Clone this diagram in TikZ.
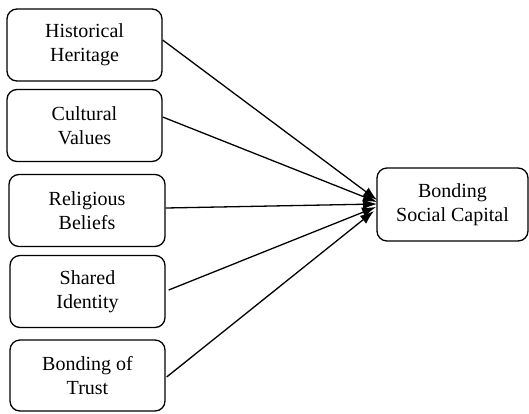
\documentclass[tikz,border=0pt]{standalone}
\usepackage{fontspec}
\setmainfont{Liberation Serif}
\usetikzlibrary{arrows.meta}
\begin{document}
\begin{tikzpicture}[x=1pt,y=-1pt,
  box/.style={draw, line width=1.3pt, rounded corners=10pt, minimum width=155pt, minimum height=72pt, align=center, inner sep=0pt, font=\fontsize{20}{24}\selectfont},
  conn/.style={line width=1.3pt, -{Latex[length=14pt,width=10pt]}}]
\useasboundingbox (0,0) rectangle (529,413);
\node[box] (b1) at (84.5,45) {Historical\\Heritage};
\node[box] (b2) at (84.5,125.5) {Cultural\\Values};
\node[box, minimum width=156pt] (b3) at (87,210.5) {Religious\\Beliefs};
\node[box] (b4) at (87.5,291.5) {Shared\\Identity};
\node[box, minimum height=71pt] (b5) at (87.5,375.5) {Bonding of\\Trust};
\node[box, minimum width=151pt, minimum height=73pt] (t) at (452.5,204.5) {Bonding\\Social Capital};
\coordinate (e1) at (377,200);
\coordinate (e2) at (377,202);
\coordinate (e3) at (377,204);
\coordinate (e4) at (376,207);
\coordinate (e5) at (374,211);
\draw[conn] (b1.east |- 0,40) -- (e1);
\draw[conn] (b2.east |- 0,117) -- (e2);
\draw[conn] (b3.east |- 0,208) -- (e3);
\draw[conn] ([xshift=3pt]b4.east |- 0,290) -- (e4);
\draw[conn] ([xshift=1pt]b5.east |- 0,377) -- (e5);
\end{tikzpicture}
\end{document}
